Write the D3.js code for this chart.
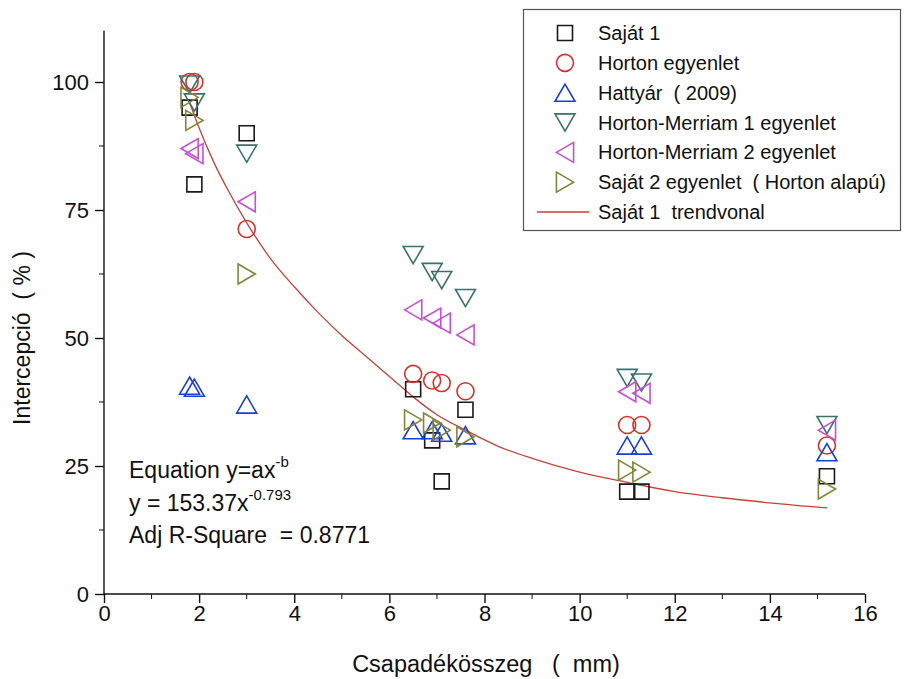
<!DOCTYPE html>
<html>
<head>
<meta charset="utf-8">
<script src="https://cdn.jsdelivr.net/npm/d3@7"></script>
<style>
  body { margin: 0; background: #fff; }
  text { font-family: "Liberation Sans", Arial, sans-serif; fill: #111; }
</style>
</head>
<body>
<div id="chart"></div>
<script>
// rainfall amounts (mm), shared by every series
var rainfall = [1.8, 1.9, 3.0, 6.5, 6.9, 7.1, 7.6, 11.0, 11.3, 15.2];

// interception (%) per method
var sajat1 = [95, 80, 90, 40, 30, 22, 36, 20, 20, 23];
var horton = [100, 100, 71.3, 43, 41.7, 41.2, 39.6, 33, 33, 29];
var hattyar = [40.7, 40.3, 37, 32, 32, 31.5, 31, 29, 29, 27.7];
var hortonMerriam1 = [99.5, 96, 86, 66.2, 62.9, 61.3, 57.8, 42.2, 41.3, 33];
var hortonMerriam2 = [87, 86, 76.6, 55.5, 53.9, 52.9, 50.6, 39.5, 39.2, 32];
var sajat2 = [97, 92.5, 62.5, 34, 33.4, 32, 30.7, 24.2, 23.8, 20.5];

// trend line
var trendX = [1.8, 2.0, 2.3, 2.6, 3.0, 3.5, 4.0, 4.5, 5.0, 5.5, 6.0, 6.5, 7.0, 7.6, 8.3, 9.0, 10.0, 11.0, 12.0, 13.0, 14.0, 15.2];
var trendY = [96, 91, 84.5, 79, 72.5, 65.5, 60, 55, 50.5, 46.5, 42.5, 38.5, 35, 32, 28.8, 26.5, 23.8, 21.8, 20, 18.8, 17.8, 16.8];

var xTicks = [0, 2, 4, 6, 8, 10, 12, 14, 16];
var yTicks = [0, 25, 50, 75, 100];

var legendLabels = [
  'Saját 1',
  'Horton egyenlet',
  'Hattyár\u00a0\u00a0(\u00a02009)',
  'Horton-Merriam 1 egyenlet',
  'Horton-Merriam 2 egyenlet',
  'Saját 2 egyenlet\u00a0\u00a0(\u00a0Horton alapú)',
  'Saját 1\u00a0\u00a0trendvonal'
];

// custom marker shapes (size = box width in px)
function tri(dir) {
  return {
    draw: function (ctx, size) {
      var w = size / 2, h = size * 0.43;
      if (dir === 'up') { ctx.moveTo(0, -h); ctx.lineTo(w, h); ctx.lineTo(-w, h); }
      if (dir === 'down') { ctx.moveTo(0, h); ctx.lineTo(w, -h); ctx.lineTo(-w, -h); }
      if (dir === 'left') { ctx.moveTo(-h, 0); ctx.lineTo(h, -w); ctx.lineTo(h, w); }
      if (dir === 'right') { ctx.moveTo(h, 0); ctx.lineTo(-h, -w); ctx.lineTo(-h, w); }
      ctx.closePath();
    }
  };
}
var squareType = { draw: function (ctx, size) { var s = size / 2; ctx.rect(-s, -s, size, size); } };
var circleType = { draw: function (ctx, size) { var r = size / 2; ctx.moveTo(r, 0); ctx.arc(0, 0, r, 0, 2 * Math.PI); } };

var series = [
  { values: sajat1, type: squareType, size: 15, color: '#1a1a1a' },
  { values: horton, type: circleType, size: 17, color: '#d8312c' },
  { values: hattyar, type: tri('up'), size: 20, color: '#1b3fd4' },
  { values: hortonMerriam1, type: tri('down'), size: 20, color: '#3b716c' },
  { values: hortonMerriam2, type: tri('left'), size: 20, color: '#c64fd6' },
  { values: sajat2, type: tri('right'), size: 20, color: '#85853a' }
];
var trendColor = '#c4433b';

var width = 907, height = 679;
var svg = d3.select('#chart').append('svg')
  .attr('width', width)
  .attr('height', height);

var x = d3.scaleLinear().domain([0, 16]).range([104, 865]);
var y = d3.scaleLinear().domain([0, 100]).range([594, 82]);
var yTop = y(110);

// axes
var xAxis = svg.append('g').attr('transform', 'translate(0,' + y(0) + ')')
  .call(d3.axisBottom(x).tickValues(xTicks).tickSize(9).tickPadding(2).tickFormat(d3.format('d')));
xAxis.append('g').selectAll('line')
  .data(d3.range(1, 16, 2))
  .enter().append('line')
  .attr('x1', function (d) { return x(d); }).attr('x2', function (d) { return x(d); })
  .attr('y1', 0).attr('y2', 5)
  .attr('stroke', '#111');

var yAxis = svg.append('g').attr('transform', 'translate(' + x(0) + ',0)')
  .call(d3.axisLeft(y).tickValues(yTicks).tickSize(9).tickPadding(6));
yAxis.append('g').selectAll('line')
  .data([12.5, 37.5, 62.5, 87.5])
  .enter().append('line')
  .attr('y1', function (d) { return y(d); }).attr('y2', function (d) { return y(d); })
  .attr('x1', 0).attr('x2', -5)
  .attr('stroke', '#111');
yAxis.select('.domain').attr('d', 'M0,' + yTop + 'V' + y(0));
xAxis.select('.domain').attr('d', 'M' + x(0) + ',0H' + x(16));

svg.selectAll('.tick text').style('font-size', '22px').style('font-family', '"Liberation Sans", Arial, sans-serif').attr('fill', '#111');
svg.selectAll('.tick line, .domain').attr('stroke', '#111').attr('stroke-width', 1.4);

// axis titles
svg.append('text')
  .attr('x', 486).attr('y', 672)
  .attr('text-anchor', 'middle')
  .style('font-size', '23.5px')
  .text('Csapadékösszeg\u00a0\u00a0\u00a0(\u00a0\u00a0mm)');

svg.append('text')
  .attr('transform', 'translate(30,' + y(50) + ') rotate(-90)')
  .attr('text-anchor', 'middle')
  .style('font-size', '23px')
  .text('Intercepció\u00a0\u00a0(\u00a0%\u00a0)');

// trend line
var trend = trendX.map(function (d, i) { return [d, trendY[i]]; });
svg.append('path')
  .datum(trend)
  .attr('fill', 'none')
  .attr('stroke', trendColor)
  .attr('stroke-width', 1.3)
  .attr('d', d3.line()
    .x(function (d) { return x(d[0]); })
    .y(function (d) { return y(d[1]); })
    .curve(d3.curveMonotoneX));

// scatter markers
series.forEach(function (s) {
  svg.append('g').selectAll('path')
    .data(s.values)
    .enter().append('path')
    .attr('transform', function (d, i) { return 'translate(' + x(rainfall[i]) + ',' + y(d) + ')'; })
    .attr('d', d3.symbol().type(s.type).size(s.size))
    .attr('fill', 'none')
    .attr('stroke', s.color)
    .attr('stroke-width', 1.6);
});

// equation box text
var eq = svg.append('g').style('font-size', '23px');
var l1 = eq.append('text').attr('x', 129).attr('y', 478);
l1.append('tspan').text('Equation y=ax');
l1.append('tspan').attr('dy', -11).style('font-size', '15px').text('-b');
var l2 = eq.append('text').attr('x', 129).attr('y', 511);
l2.append('tspan').text('y = 153.37x');
l2.append('tspan').attr('dy', -11).style('font-size', '15px').text('-0.793');
eq.append('text').attr('x', 129).attr('y', 543).text('Adj R-Square\u00a0\u00a0= 0.8771');

// legend
var legend = svg.append('g');
legend.append('rect')
  .attr('x', 523.5).attr('y', 9.5)
  .attr('width', 377).attr('height', 221)
  .attr('fill', '#fff')
  .attr('stroke', '#555')
  .attr('stroke-width', 1.2);

var rowY = d3.scalePoint().domain(d3.range(legendLabels.length)).range([33, 212]);

legendLabels.forEach(function (label, i) {
  var cy = rowY(i);
  if (i < series.length) {
    var s = series[i];
    legend.append('path')
      .attr('transform', 'translate(565,' + cy + ')')
      .attr('d', d3.symbol().type(s.type).size(s.size))
      .attr('fill', 'none')
      .attr('stroke', s.color)
      .attr('stroke-width', 1.6);
  } else {
    legend.append('line')
      .attr('x1', 537).attr('x2', 589)
      .attr('y1', cy).attr('y2', cy)
      .attr('stroke', trendColor)
      .attr('stroke-width', 1.3);
  }
  legend.append('text')
    .attr('x', 598).attr('y', cy)
    .attr('dy', '0.35em')
    .style('font-size', '20px')
    .text(label);
});
</script>
</body>
</html>
